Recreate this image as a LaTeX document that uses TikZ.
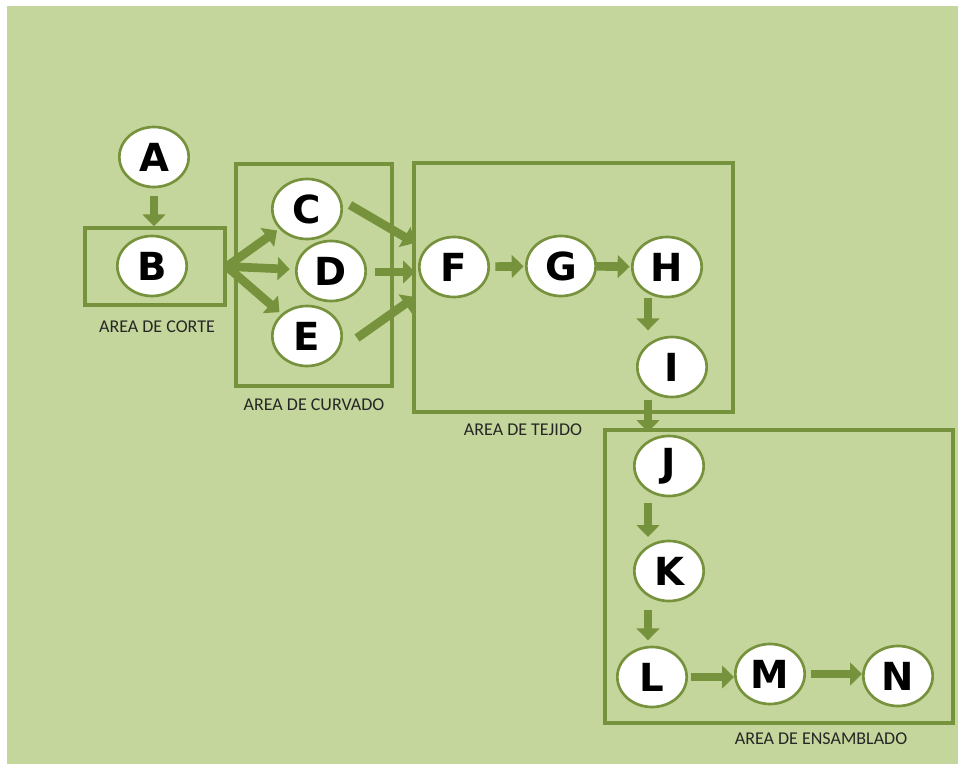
\documentclass[tikz,border=0pt]{standalone}
\usepackage{fontspec}
\setmainfont{Carlito}
\newfontfamily\letterfont{DejaVu Sans}
\usetikzlibrary{shapes.geometric,arrows.meta,fit}
\definecolor{bggreen}{RGB}{196,214,155}
\definecolor{darkgreen}{RGB}{118,146,60}

\begin{document}
\begin{tikzpicture}[x=0.75pt,y=-0.75pt,
    stage/.style={ellipse,draw=darkgreen,line width=2pt,fill=white,
      minimum width=52pt,minimum height=45pt,inner sep=0pt,
      font=\letterfont\bfseries\fontsize{29}{29}\selectfont},
    areabox/.style={draw=darkgreen,line width=2.6pt,inner sep=0pt},
    arealabel/.style={font=\fontsize{13.5}{13.5}\selectfont,text=black!85},
    flow/.style={draw=darkgreen,line width=6.5pt,
      -{Triangle[width=17pt,length=9pt]}}]
  \useasboundingbox (0,0) rectangle (961,771);
  \fill[bggreen] (7,6) rectangle (958,764);
  % areas
  \node[areabox,fit={(85,228) (225,305)}] (corte) {};
  \node[areabox,fit={(236,164) (392,386)}] (curvado) {};
  \node[areabox,fit={(414,163) (733,412)}] (tejido) {};
  \node[areabox,fit={(605,430) (953,723)}] (ensamblado) {};
  \node[arealabel] (lcorte) at (157,327) {AREA DE CORTE};
  \node[arealabel] (lcurvado) at (314,405) {AREA DE CURVADO};
  \node[arealabel] (ltejido) at (523,430) {AREA DE TEJIDO};
  \node[arealabel] (lensamblado) at (821,739) {AREA DE ENSAMBLADO};
  % stages
  \foreach \n/\x/\y in {A/154/157,B/152/266,C/307/209,D/331/271,E/307/336,
      F/454/267,G/561/266,H/667/267,I/672/367,J/669/466,K/669/571,
      L/652/677,M/770/674,N/898/676}
    \node[stage] (\n) at (\x,\y) {\n};
  \coordinate (in1) at (415,243);
  \coordinate (in2) at (415,272);
  \coordinate (in3) at (415,297);
  \coordinate (col) at (648,0);
  % flows
  \draw[flow,shorten <=6pt] (A) -- (A |- corte.north);
  \draw[flow,shorten >=2pt] (corte.east) -- (C);
  \draw[flow,shorten >=4pt] (corte.east) -- (D);
  \draw[flow,shorten >=2pt] (corte.east) -- (E);
  \draw[flow] ([shift={(7,-4)}]C.east) -- (in1);
  \draw[flow] ([shift={(8,1)}]D.east) -- (in2);
  \draw[flow] ([shift={(14,2)}]E.east) -- (in3);
  \draw[flow,shorten <=4pt,shorten >=1pt] (F) -- (G);
  \draw[flow,shorten >=1pt] (G) -- (H);
  \draw[flow,shorten >=4pt] (H.south -| col) -- (I.north -| col);
  \draw[flow,shorten <=1pt,shorten >=2pt] (I.south -| col) -- (J.north -| col);
  \draw[flow,shorten <=4pt,shorten >=2pt] (J.south -| col) -- (K.north -| col);
  \draw[flow,shorten <=6pt,shorten >=4pt] (K.south -| col) -- (L.north -| col);
  \draw[flow,shorten <=2pt] (L) -- (M.west |- L);
  \draw[flow,shorten <=4pt] (M) -- (N.west |- M);
\end{tikzpicture}
\end{document}
